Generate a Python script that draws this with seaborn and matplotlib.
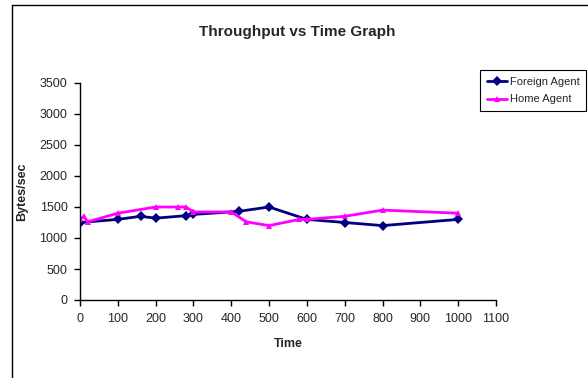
import matplotlib
matplotlib.use("Agg")
import matplotlib.pyplot as plt
from matplotlib.lines import Line2D
import seaborn as sns
import pandas as pd

# Throughput samples (time, bytes/sec) for each agent
foreign_time = [0, 100, 160, 200, 280, 300, 420, 500, 600, 700, 800, 1000]
foreign_rate = [1250, 1300, 1350, 1320, 1360, 1380, 1430, 1500, 1300, 1250, 1200, 1300]

home_time = [0, 10, 20, 100, 200, 260, 280, 300, 400, 440, 500, 580, 600, 700, 800, 1000]
home_rate = [1300, 1350, 1260, 1400, 1500, 1500, 1500, 1420, 1420, 1260, 1200, 1300, 1300, 1350, 1450, 1400]

series_names = ["Foreign Agent", "Home Agent"]
x_ticks = list(range(0, 1101, 100))
y_ticks = list(range(0, 3501, 500))

df = pd.concat([
    pd.DataFrame({"Time": foreign_time, "Bytes/sec": foreign_rate, "Agent": series_names[0]}),
    pd.DataFrame({"Time": home_time, "Bytes/sec": home_rate, "Agent": series_names[1]}),
], ignore_index=True)

sns.set_style("ticks")
plt.rcParams["font.family"] = ["Liberation Sans", "DejaVu Sans"]

fig = plt.figure(figsize=(5.88, 3.78), dpi=100)
ax = fig.add_axes([80 / 588, 1 - 300 / 378, 416 / 588, 217 / 378])

palette = {series_names[0]: "#000080", series_names[1]: "#FF00FF"}
markers = {series_names[0]: "D", series_names[1]: "^"}
sns.lineplot(data=df, x="Time", y="Bytes/sec", hue="Agent", style="Agent",
             palette=palette, markers=markers, dashes=False, sort=True,
             estimator=None, linewidth=2, markersize=5, markeredgewidth=0,
             ax=ax)

ax.set_xlim(0, 1100)
ax.set_ylim(0, 3500)
ax.set_xticks(x_ticks)
ax.set_yticks(y_ticks)
ax.tick_params(axis="both", labelsize=9, length=4, width=1, color="black",
               direction="out", pad=5)
for s in ["top", "right"]:
    ax.spines[s].set_visible(False)
for s in ["left", "bottom"]:
    ax.spines[s].set_color("black")
    ax.spines[s].set_linewidth(1)

ax.set_xlabel("Time", fontsize=9, fontweight="bold", labelpad=10)
ax.set_ylabel("Bytes/sec", fontsize=9, fontweight="bold", labelpad=8)

fig.text(297 / 588, 1 - 32 / 378, "Throughput vs Time Graph", ha="center",
         va="center", fontsize=11, fontweight="bold")

handles, labels = ax.get_legend_handles_labels()
ax.legend(handles=handles, labels=labels, loc="upper left",
          bbox_to_anchor=(480 / 588, 1 - 70 / 378), bbox_transform=fig.transFigure,
          fontsize=8, frameon=True, fancybox=False, edgecolor="black",
          framealpha=1, borderpad=0.6, handlelength=1.8, handletextpad=0.3,
          labelspacing=0.7, borderaxespad=0)
ax.get_legend().get_frame().set_linewidth(0.8)

# outer chart-area border (left and top edges)
fig.add_artist(Line2D([12 / 588, 12 / 588], [0, 1 - 5 / 378], color="black",
                      linewidth=1, transform=fig.transFigure))
fig.add_artist(Line2D([12 / 588, 1], [1 - 5 / 378, 1 - 5 / 378], color="black",
                      linewidth=1, transform=fig.transFigure))

fig.savefig("out.png", dpi=100)
